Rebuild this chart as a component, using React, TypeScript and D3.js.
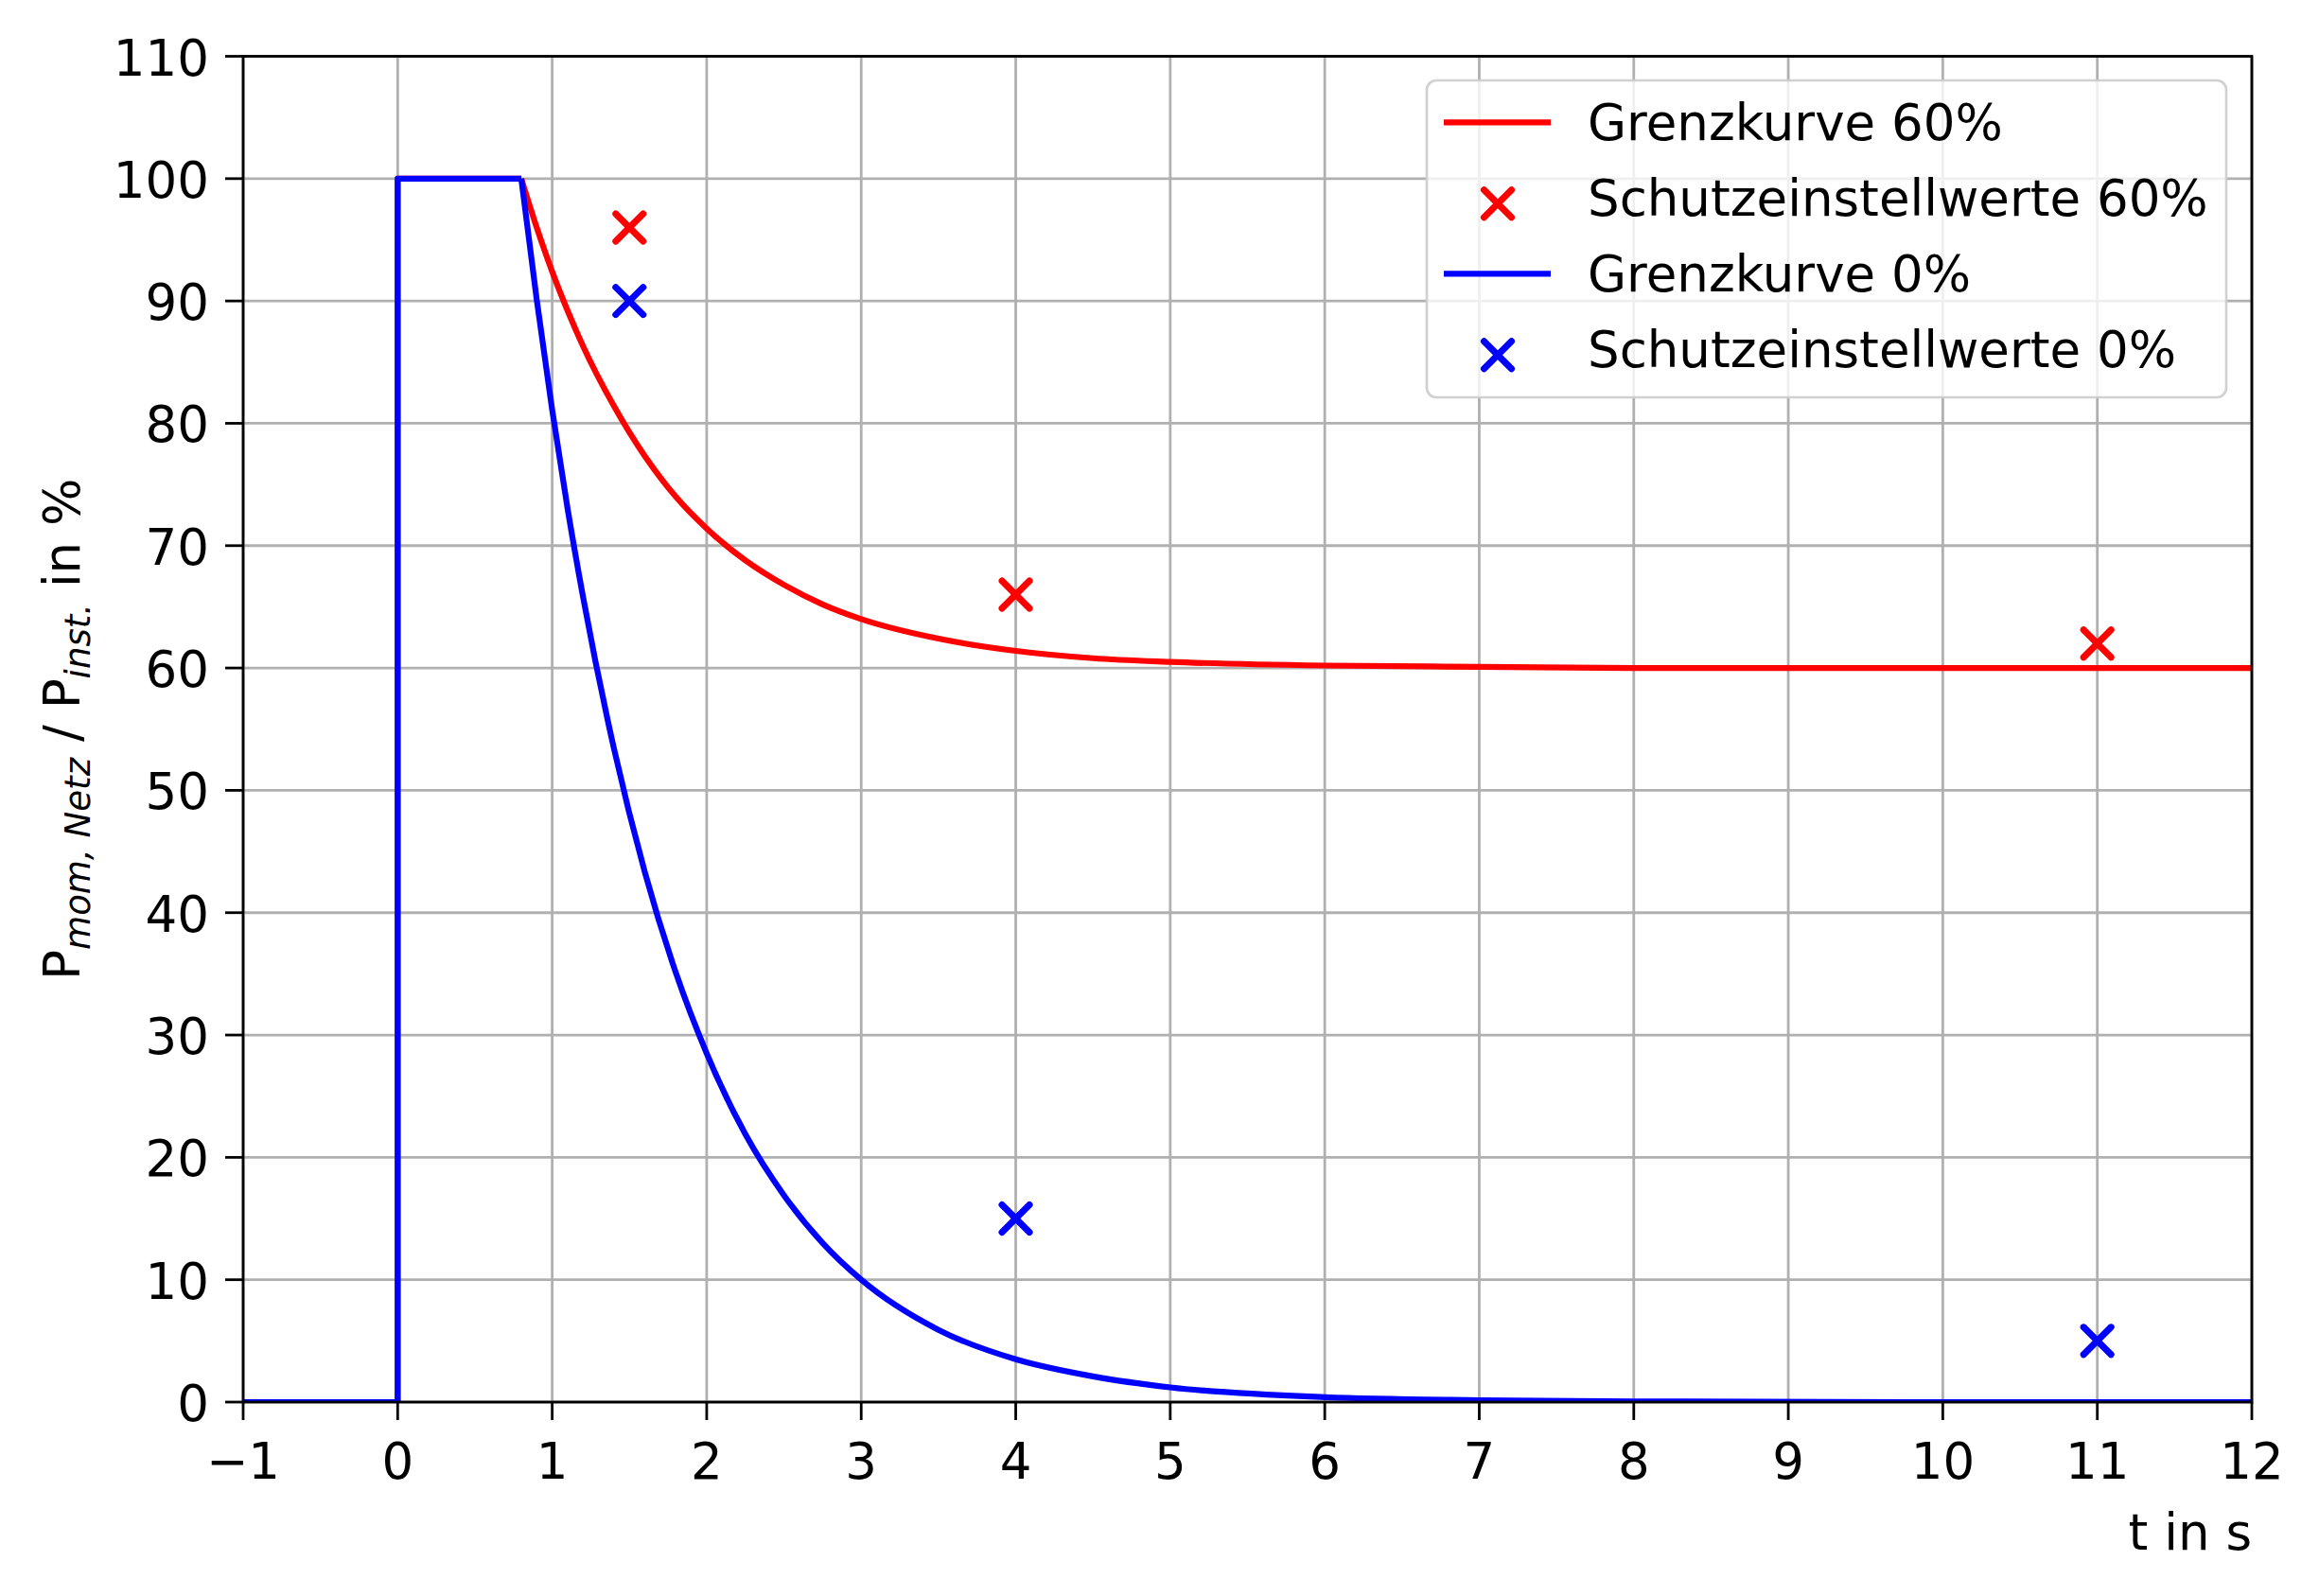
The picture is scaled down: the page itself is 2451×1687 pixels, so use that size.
import React from "react";
import * as d3 from "d3";

// ---- data ----
const xTicks = [-1, 0, 1, 2, 3, 4, 5, 6, 7, 8, 9, 10, 11, 12];
const yTicks = [0, 10, 20, 30, 40, 50, 60, 70, 80, 90, 100, 110];

// step part (both curves share it)
const stepT = [-1, 0, 0, 0.8];
const stepP = [0, 0, 100, 100];

// decay part
const decayT = [0.8, 0.9, 1.0, 1.1, 1.2, 1.4, 1.6, 1.8, 2.0, 2.25, 2.5, 2.75, 3.0, 3.5, 4.0, 4.5, 5.0, 6.0, 7.0, 8.0, 10.0, 12.0];
const grenz60 = [100, 96.0, 92.4, 89.2, 86.3, 81.4, 77.3, 74.0, 71.4, 68.8, 66.8, 65.2, 64.0, 62.4, 61.4, 60.8, 60.5, 60.2, 60.1, 60.0, 60.0, 60.0];
const grenz0 = [100, 90.1, 81.1, 73.0, 65.8, 53.4, 43.3, 35.1, 28.5, 21.9, 16.9, 13.0, 10.0, 5.9, 3.5, 2.1, 1.2, 0.4, 0.15, 0.05, 0, 0];

const schutzT = [1.5, 4, 11];
const schutz60 = [96, 66, 62];
const schutz0 = [90, 15, 5];

const legendLabels = ["Grenzkurve 60%", "Schutzeinstellwerte 60%", "Grenzkurve 0%", "Schutzeinstellwerte 0%"];

const RED = "#ff0000";
const BLUE = "#0000ff";
const FONT = "DejaVu Sans";

const W = 2451;
const H = 1687;
const L = 257, R = 2380, T = 59.5, B = 1482;

const x = d3.scaleLinear().domain([-1, 12]).range([L, R]);
const y = d3.scaleLinear().domain([0, 110]).range([B, T]);

const lin = d3.line<[number, number]>().x(d => x(d[0])).y(d => y(d[1]));
const smooth = d3.line<[number, number]>().x(d => x(d[0])).y(d => y(d[1])).curve(d3.curveMonotoneX);

function curvePath(vals: number[]) {
  const s = lin(stepT.map((t, i) => [t, stepP[i]] as [number, number])) || "";
  const dpart = smooth(decayT.map((t, i) => [t, vals[i]] as [number, number])) || "";
  return s + dpart;
}

function XMark({ cx, cy, color, h = 14.5, sw = 7 }: { cx: number; cy: number; color: string; h?: number; sw?: number }) {
  return (
    <g stroke={color} strokeWidth={sw} strokeLinecap="round">
      <line x1={cx - h} y1={cy - h} x2={cx + h} y2={cy + h} />
      <line x1={cx - h} y1={cy + h} x2={cx + h} y2={cy - h} />
    </g>
  );
}

export default function App() {
  React.useEffect(() => {
    document.body.style.margin = "0";
  }, []);
  const fs = 53;
  const lw = 6.2;
  const legX = 1508, legY = 85, legW = 845, legH = 335;
  const rowC = [129.3, 209.3, 289.3, 369.3];
  return (
    <svg width={W} height={H} style={{ display: "block", background: "#fff" }} fontFamily={FONT}>
      <defs>
        <clipPath id="plotclip">
          <rect x={L} y={T} width={R - L} height={B - T} />
        </clipPath>
      </defs>
      <rect x={0} y={0} width={W} height={H} fill="#fff" />
      {/* grid */}
      <g stroke="#b0b0b0" strokeWidth={2.8}>
        {xTicks.map(t => (
          <line key={"gx" + t} x1={x(t)} x2={x(t)} y1={T} y2={B} />
        ))}
        {yTicks.map(t => (
          <line key={"gy" + t} x1={L} x2={R} y1={y(t)} y2={y(t)} />
        ))}
      </g>
      {/* curves */}
      <g clipPath="url(#plotclip)" fill="none" strokeLinejoin="round">
        <path d={curvePath(grenz60)} stroke={RED} strokeWidth={lw} />
        <path d={curvePath(grenz0)} stroke={BLUE} strokeWidth={lw} />
      </g>
      {/* markers */}
      {schutzT.map((t, i) => (
        <XMark key={"r" + i} cx={x(t)} cy={y(schutz60[i])} color={RED} />
      ))}
      {schutzT.map((t, i) => (
        <XMark key={"b" + i} cx={x(t)} cy={y(schutz0[i])} color={BLUE} />
      ))}
      {/* spines */}
      <rect x={L} y={T} width={R - L} height={B - T} fill="none" stroke="#000" strokeWidth={2.8} />
      {/* ticks */}
      <g stroke="#000" strokeWidth={2.8}>
        {xTicks.map(t => (
          <line key={"tx" + t} x1={x(t)} x2={x(t)} y1={B} y2={B + 19} />
        ))}
        {yTicks.map(t => (
          <line key={"ty" + t} x1={L - 19} x2={L} y1={y(t)} y2={y(t)} />
        ))}
      </g>
      <g fontSize={fs} fill="#000">
        {xTicks.map(t => (
          <text key={"lx" + t} x={x(t)} y={1563} textAnchor="middle">
            {t < 0 ? "\u2212" + Math.abs(t) : String(t)}
          </text>
        ))}
        {yTicks.map(t => (
          <text key={"ly" + t} x={221} y={y(t) + 20} textAnchor="end">
            {t}
          </text>
        ))}
        <text x={R} y={1638} textAnchor="end">t in s</text>
        <text transform={`translate(84, ${(T + B) / 2}) rotate(-90)`} textAnchor="middle">
          <tspan>P</tspan>
          <tspan fontStyle="italic" fontSize={fs * 0.7} dy={11}>mom, Netz</tspan>
          <tspan dy={-11}> / P</tspan>
          <tspan fontStyle="italic" fontSize={fs * 0.7} dy={11}>inst.</tspan>
          <tspan dy={-11}>  in %</tspan>
        </text>
      </g>
      {/* legend */}
      <rect x={legX} y={legY} width={legW} height={legH} rx={10} ry={10} fill="#fff" fillOpacity={0.8} stroke="#cccccc" strokeOpacity={0.9} strokeWidth={2.7} />
      <line x1={1526} x2={1639} y1={rowC[0]} y2={rowC[0]} stroke={RED} strokeWidth={lw} />
      <XMark cx={1583} cy={rowC[1] + 6} color={RED} />
      <line x1={1526} x2={1639} y1={rowC[2]} y2={rowC[2]} stroke={BLUE} strokeWidth={lw} />
      <XMark cx={1583} cy={rowC[3] + 6} color={BLUE} />
      <g fontSize={fs} fill="#000">
        {legendLabels.map((s, i) => (
          <text key={s} x={1678} y={rowC[i] + 19}>{s}</text>
        ))}
      </g>
    </svg>
  );
}
